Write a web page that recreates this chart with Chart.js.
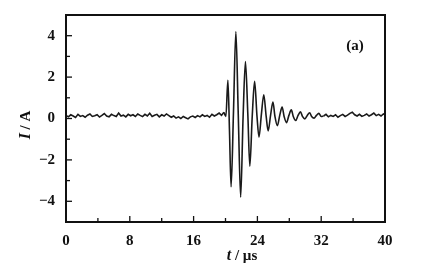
<!DOCTYPE html>
<html><head><meta charset="utf-8">
<script src="https://cdn.jsdelivr.net/npm/chart.js@4.4.1/dist/chart.umd.min.js"></script>
<style>html,body{margin:0;padding:0;background:#fff;}canvas{display:block;}</style>
</head><body>
<canvas id="c" width="423" height="265"></canvas>
<script>
// time (µs) and current (A)
const preTimes = [0,0.3,0.6,0.9,1.2,1.5,1.8,2.1,2.4,2.7,3,3.3,3.6,3.9,4.2,4.5,4.8,5.1,5.4,5.7,6,6.3,6.6,6.9,7.2,7.5,7.8,8.1,8.4,8.7,9,9.3,9.6,9.9,10.2,10.5,10.8,11.1,11.4,11.7,12,12.3,12.6,12.9,13.2,13.5,13.8,14.1,14.4,14.7,15,15.3,15.6,15.9,16.2,16.5,16.8,17.1,17.4,17.7,18,18.3,18.6,18.9,19.2,19.5,19.8];
const preCurrent = [0.15,0.08,0.18,0.12,0.05,0.2,0.1,0.14,0.06,0.16,
  0.22,0.1,0.13,0.18,0.07,0.15,0.24,0.12,0.08,0.2,
  0.14,0.1,0.26,0.12,0.16,0.08,0.2,0.13,0.18,0.1,
  0.22,0.15,0.09,0.2,0.12,0.25,0.1,0.16,0.2,0.08,
  0.18,0.12,0.22,0.14,0.06,0.12,0.02,0.08,0.0,0.1,
  0.04,-0.02,0.08,0.12,0.05,0.14,0.08,0.18,0.1,0.15,
  0.06,0.2,0.12,0.18,0.26,0.15,0.3];
const burstTimes = [20.05,20.3,20.5,20.7,21.0,21.3,21.6,21.9,22.2,22.5,22.8,23.05,23.35,23.65,23.95,24.2,24.5,24.8,25.1,25.35,25.65,25.95,26.2,26.5,26.8,27.1,27.35,27.65,27.95,28.25,28.5,28.8,29.1,29.4,29.65,29.95,30.25,30.55,30.8,31.1,31.4,31.7,32.0];
const burstCurrent = [0.1,1.85,-0.6,-3.3,0.3,4.2,0.2,-3.8,0.0,2.75,0.2,-2.3,0.1,1.8,0.1,-0.9,0.2,1.15,0.1,-0.6,0.15,0.8,0.1,-0.35,0.15,0.55,0.1,-0.2,0.15,0.42,0.1,-0.1,0.15,0.32,0.1,-0.02,0.15,0.28,0.1,0.02,0.15,0.25,0.1];
const postTimes = [32.3,32.6,32.9,33.2,33.5,33.8,34.1,34.4,34.7,35.0,35.3,35.6,35.9,36.2,36.5,36.8,37.1,37.4,37.7,38.0,38.3,38.6,38.9,39.2,39.5,39.8,40.0];
const postCurrent = [0.12,0.2,0.08,0.15,0.1,0.18,0.06,0.14,0.2,0.1,0.16,0.25,0.3,0.18,0.12,0.2,0.1,0.15,0.22,0.12,0.18,0.26,0.14,0.2,0.12,0.22,0.18];
const xTickLabels = [0,8,16,24,32,40];
const yTickLabels = [-4,-2,0,2,4];
const panelLabel = '(a)';

const toPts = (ts, vs) => ts.map((t, i) => ({x: t, y: vs[i]}));
const prePts = toPts(preTimes, preCurrent);
const postPts = toPts(postTimes, postCurrent);
// burst joined to neighbouring noise samples so the trace is continuous
const burstPts = [prePts[prePts.length - 1]].concat(toPts(burstTimes, burstCurrent), [postPts[0]]);

const SERIF = '"Liberation Serif","DejaVu Serif",serif';
const decor = {
  id: 'decor',
  afterDraw(chart) {
    const ctx = chart.ctx;
    const {left, right, top, bottom} = chart.chartArea;
    ctx.save();
    ctx.strokeStyle = '#111';
    ctx.lineWidth = 2;
    ctx.strokeRect(left, top, right - left, bottom - top);
    ctx.lineWidth = 1.3;
    const xs = chart.scales.x, ys = chart.scales.y;
    xs.ticks.forEach(tk => {
      const px = xs.getPixelForValue(tk.value);
      const len = xTickLabels.includes(tk.value) ? 6 : 4;
      ctx.beginPath(); ctx.moveTo(px, bottom); ctx.lineTo(px, bottom - len); ctx.stroke();
    });
    ys.ticks.forEach(tk => {
      const py = ys.getPixelForValue(tk.value);
      const len = yTickLabels.includes(tk.value) ? 6 : 4;
      ctx.beginPath(); ctx.moveTo(left, py); ctx.lineTo(left + len, py); ctx.stroke();
    });
    ctx.fillStyle = '#111';
    ctx.textBaseline = 'alphabetic';
    const fIt = 'italic bold 16px ' + SERIF, fRg = 'bold 15px ' + SERIF;
    ctx.font = fIt; const w1 = ctx.measureText('t').width;
    ctx.font = fRg; const w2 = ctx.measureText(' / µs').width;
    let sx = 242 - (w1 + w2) / 2;
    ctx.font = fIt; ctx.fillText('t', sx, 260);
    ctx.font = fRg; ctx.fillText(' / µs', sx + w1, 260);
    ctx.save();
    ctx.translate(30, 125);
    ctx.rotate(-Math.PI / 2);
    ctx.font = fIt; const v1 = ctx.measureText('I').width;
    ctx.font = fRg; const v2 = ctx.measureText(' / A').width;
    sx = -(v1 + v2) / 2;
    ctx.font = fIt; ctx.fillText('I', sx, 0);
    ctx.font = fRg; ctx.fillText(' / A', sx + v1, 0);
    ctx.restore();
    ctx.font = 'bold 15px ' + SERIF;
    ctx.textAlign = 'center';
    ctx.fillText(panelLabel, 355, 50);
    ctx.restore();
  }
};

const lineStyle = {borderColor: '#1a1a1a', borderWidth: 1.6, pointRadius: 0, fill: false};

new Chart(document.getElementById('c'), {
  type: 'line',
  data: {datasets: [
    Object.assign({data: prePts, tension: 0}, lineStyle),
    Object.assign({data: burstPts, cubicInterpolationMode: 'monotone'}, lineStyle),
    Object.assign({data: postPts, tension: 0}, lineStyle)
  ]},
  options: {
    responsive: false,
    animation: false,
    devicePixelRatio: 1,
    layout: {padding: {left: 0, top: 15, right: 38, bottom: 0}},
    plugins: {legend: {display: false}, tooltip: {enabled: false}},
    scales: {
      x: {
        type: 'linear', min: 0, max: 40,
        grid: {display: false}, border: {display: false},
        ticks: {stepSize: 4, padding: 2, color: '#111', maxRotation: 0, autoSkip: false,
          font: {family: SERIF, size: 15, weight: 'bold'},
          callback: v => xTickLabels.includes(v) ? String(v) : ''},
        afterFit: s => { s.height = 43; }
      },
      y: {
        type: 'linear', min: -5, max: 5,
        grid: {display: false}, border: {display: false},
        ticks: {stepSize: 1, padding: 3, color: '#111', autoSkip: false,
          font: {family: SERIF, size: 15, weight: 'bold'},
          callback: v => yTickLabels.includes(v) ? (v < 0 ? '\u2212' + Math.abs(v) : String(v)) : ''},
        afterFit: s => { s.width = 66; }
      }
    }
  },
  plugins: [decor]
});
</script>
</body></html>
